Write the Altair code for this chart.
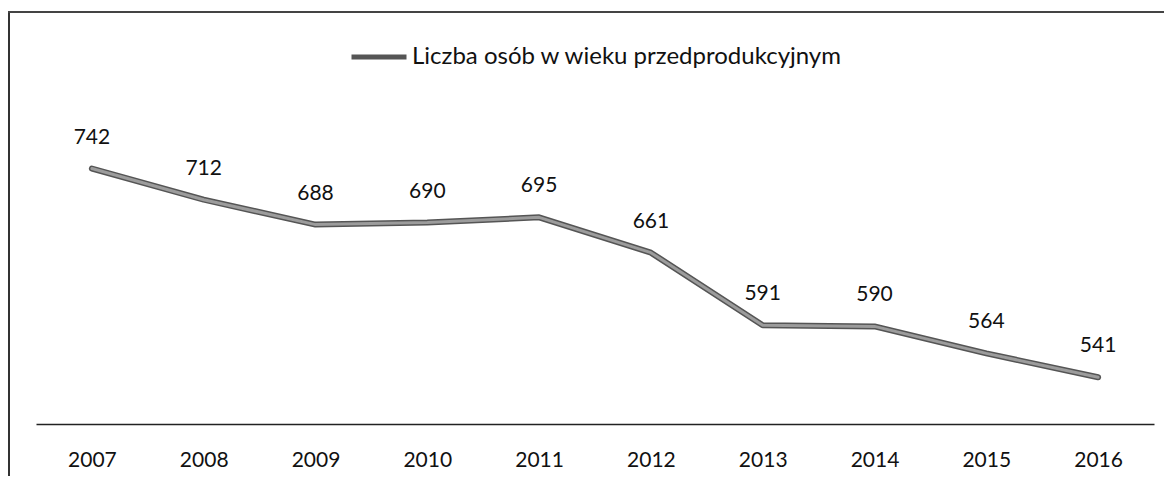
import altair as alt
import pandas as pd

years = ["2007", "2008", "2009", "2010", "2011", "2012", "2013", "2014", "2015", "2016"]
values = [742, 712, 688, 690, 695, 661, 591, 590, 564, 541]
series_name = "Liczba osób w wieku przedprodukcyjnym"

df = pd.DataFrame({"rok": years, "wartosc": values, "seria": [series_name] * len(years)})

FONT = "Lato"
W, H = 1118, 324

x = alt.X("rok:N", sort=years, title=None,
          scale=alt.Scale(paddingOuter=0.5, paddingInner=0),
          axis=alt.Axis(labelAngle=0, ticks=False, domainColor="#222", domainWidth=1.5,
                        labelFont=FONT, labelFontSize=21, labelColor="#111", labelPadding=25))
y = alt.Y("wartosc:Q", scale=alt.Scale(domain=[496, 808], nice=False, zero=False), axis=None)

base = alt.Chart(df)

outer = base.mark_line(strokeWidth=6, strokeCap="round", strokeJoin="round").encode(
    x=x, y=y,
    color=alt.Color("seria:N", scale=alt.Scale(range=["#555555"]),
                    legend=alt.Legend(title=None, orient="none", legendX=313, legendY=-73,
                                      symbolType="stroke", symbolSize=3025, symbolStrokeWidth=5,
                                      symbolStrokeColor="#707070",
                                      labelFont=FONT, labelFontSize=24, labelColor="#111",
                                      labelOffset=3, labelLimit=800))
)
inner = base.mark_line(strokeWidth=3, color="#9c9c9c", strokeCap="round", strokeJoin="round").encode(x=x, y=y)

labels = base.mark_text(font=FONT, fontSize=21, color="#111", baseline="alphabetic", dy=-25).encode(
    x=x, y=y, text="wartosc:Q"
)

left_border = alt.Chart(df).mark_rule(color="#333", strokeWidth=2).encode(
    x=alt.value(-27), y=alt.value(-88), y2=alt.value(H + 60)
)
top_border = alt.Chart(df).mark_rule(color="#444", strokeWidth=1.5).encode(
    x=alt.value(-28), x2=alt.value(W + 10), y=alt.value(-88)
)

chart = alt.layer(left_border, top_border, outer, inner, labels).properties(
    width=W, height=H,
    background="white",
    autosize=alt.AutoSizeParams(type="none"),
    padding={"left": 28, "top": 92, "right": 11, "bottom": 52},
).configure_view(strokeWidth=0, stroke=None)

chart.save("out.html", embed_options={"renderer": "svg", "actions": False})
